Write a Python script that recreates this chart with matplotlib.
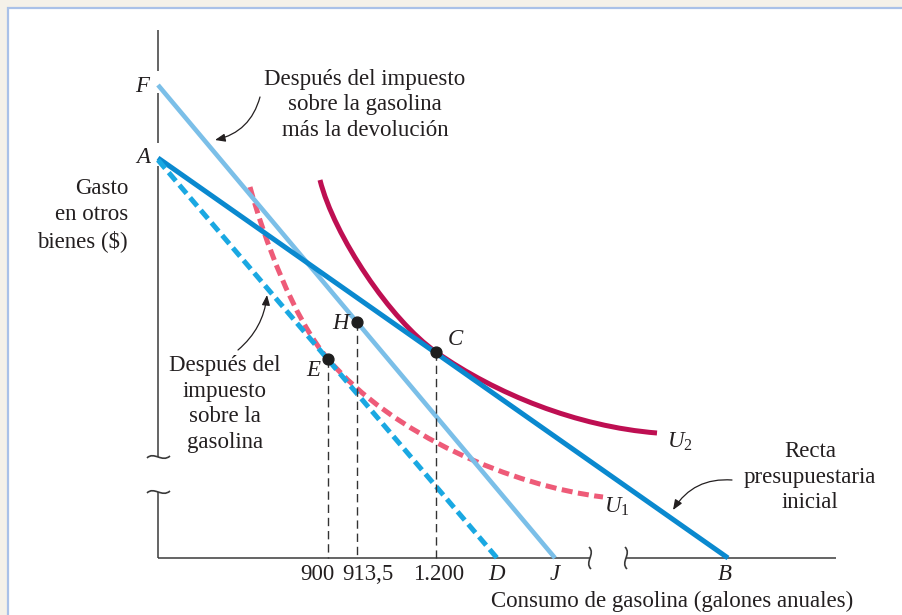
import matplotlib
matplotlib.use('Agg')
import matplotlib.pyplot as plt
from matplotlib.patches import Rectangle, PathPatch
from matplotlib.path import Path

plt.rcParams['font.family'] = ['Liberation Serif', 'DejaVu Serif']
plt.rcParams['mathtext.fontset'] = 'custom'
plt.rcParams['mathtext.it'] = 'Liberation Serif:italic'
plt.rcParams['mathtext.rm'] = 'Liberation Serif'

# schematic units: 0,0 is the axis corner
# budget lines (start on the y axis, end on the x axis)
A = (0, 40.0)
B = (57.0, 0)
F = (0, 47.3)
J = (39.7, 0)
A_tax = (0, 39.8)
D = (33.9, 0)

# chosen bundles
E = (17.0, 19.9)
H = (19.9, 23.6)
C = (27.8, 20.6)

# indifference curves as bezier control points
# (start, ctrl, ctrl, tangency point, ctrl, ctrl, end)
u2_x = [16.2, 17.6, 23.3, 27.8, 33.8, 41.9, 49.9]
u2_y = [37.8, 32.2, 23.75, 20.6, 16.4, 13.14, 12.5]
u1_x = [9.2, 10.6, 13.5, 17.0, 23.5, 35.5, 44.5]
u1_y = [37.1, 32.0, 24.0, 19.9, 12.27, 7.2, 6.1]

tick_labels = ['900', '913,5', '1.200']
tick_label_x = [15.9, 21.0, 28.1]

dark_blue = '#0a89cf'
light_blue = '#7bbfe8'
cyan = '#1aa8e2'
crimson = '#be0f52'
pink = '#ee5b78'
ink = '#231f20'

fig = plt.figure(figsize=(9.02, 6.15), dpi=100)
fig.patch.set_facecolor('#f4f1e9')
fig.patches.append(Rectangle((8 / 902, -0.1), 1.2, 1 - 8 / 615 + 0.1, transform=fig.transFigure,
                             facecolor='white', edgecolor='#a9c1e8', lw=1.6, zorder=-5))

ax = fig.add_axes([0, 0, 1, 1])
ax.set_xlim(-15.8, 74.4)
ax.set_ylim(-5.7, 55.8)
ax.axis('off')
ax.patch.set_alpha(0)

# axes with breaks
for y0, y1 in [(52.8, 48.7), (46.5, 41.5), (39.2, 10.1), (6.6, 0)]:
    ax.plot([0, 0], [y0, y1], color='#3a3a3a', lw=1.1, solid_capstyle='butt')
for x0, x1 in [(0, 43.2), (46.8, 67.8)]:
    ax.plot([x0, x1], [0, 0], color='#3a3a3a', lw=1.1, solid_capstyle='butt')


def brk(x, y, vertical):
    if vertical:
        verts = [(x - 0.1, y + 1.1), (x + 0.6, y + 0.4), (x - 0.6, y - 0.4), (x + 0.1, y - 1.1)]
    else:
        verts = [(x - 1.1, y - 0.1), (x - 0.4, y + 0.6), (x + 0.4, y - 0.6), (x + 1.2, y + 0.1)]
    p = Path(verts, [Path.MOVETO, Path.CURVE4, Path.CURVE4, Path.CURVE4])
    ax.add_patch(PathPatch(p, fill=False, edgecolor='#3a3a3a', lw=1.2))


brk(0, 10.1, False)
brk(0, 6.6, False)
brk(43.2, 0, True)
brk(46.8, 0, True)


def curve(xs, ys, **kw):
    codes = [Path.MOVETO] + [Path.CURVE4] * (len(xs) - 1)
    p = Path(list(zip(xs, ys)), codes)
    ax.add_patch(PathPatch(p, fill=False, **kw))


# budget lines
ax.plot([F[0], J[0]], [F[1], J[1]], color=light_blue, lw=3.3, solid_capstyle='butt')
ax.plot([A[0], B[0]], [A[1], B[1]], color=dark_blue, lw=3.6, solid_capstyle='butt')
ax.plot([A_tax[0], D[0]], [A_tax[1], D[1]], color=cyan, lw=3.6, dashes=(2.2, 1.1))

# indifference curves
curve(u1_x, u1_y, edgecolor=pink, lw=3.6, linestyle=(0, (2.2, 1.1)), capstyle='butt')
curve(u2_x, u2_y, edgecolor=crimson, lw=3.6, capstyle='butt')

# drop lines and points
for x, y in [E, H, C]:
    ax.plot([x, x], [y, 0], color='#333333', lw=1.0, dashes=(6, 3.5))
    ax.plot(x, y, 'o', color='#1e1e1e', ms=7.8, zorder=5)

fs = 16.5
txt = dict(color=ink, fontsize=fs, linespacing=1.3)
ax.text(-1.6, 47.1, 'F', style='italic', ha='center', va='center', **txt)
ax.text(-1.5, 40.0, 'A', style='italic', ha='center', va='center', **txt)
ax.text(29.7, 21.8, 'C', style='italic', ha='center', va='center', **txt)
ax.text(18.2, 23.4, 'H', style='italic', ha='center', va='center', **txt)
ax.text(15.5, 18.8, 'E', style='italic', ha='center', va='center', **txt)
ax.text(52.2, 11.6, '$U_2$', ha='center', va='center', **txt)
ax.text(45.9, 5.1, '$U_1$', ha='center', va='center', **txt)

for lx, lab in zip(tick_label_x, tick_labels):
    ax.text(lx, -1.7, lab, ha='center', va='center', **txt)
for lx, lab in [(D[0], 'D'), (J[0], 'J'), (56.7, 'B')]:
    ax.text(lx, -1.7, lab, style='italic', ha='center', va='center', **txt)

ax.text(51.4, -4.3, 'Consumo de gasolina (galones anuales)', ha='center', va='center', **txt)
ax.text(-3.0, 34.3, 'Gasto\nen otros\nbienes ($)', ha='right', va='center', multialignment='right', **txt)
ax.text(20.7, 45.3, 'Después del impuesto\nsobre la gasolina\nmás la devolución',
        ha='center', va='center', multialignment='center', **txt)
ax.text(6.7, 15.4, 'Después del\nimpuesto\nsobre la\ngasolina',
        ha='center', va='center', multialignment='center', **txt)
ax.text(65.2, 8.1, 'Recta\npresupuestaria\ninicial',
        ha='center', va='center', multialignment='center', **txt)

arrow = dict(arrowstyle='-|>,head_length=0.6,head_width=0.24', color=ink, lw=0.9,
             shrinkA=0, shrinkB=0)
ax.annotate('', xy=(5.7, 41.8), xytext=(10.2, 46.1),
            arrowprops=dict(connectionstyle='arc3,rad=-0.3', **arrow))
ax.annotate('', xy=(10.9, 26.3), xytext=(8.0, 20.8),
            arrowprops=dict(connectionstyle='arc3,rad=0.2', **arrow))
ax.annotate('', xy=(51.5, 4.8), xytext=(57.4, 7.8),
            arrowprops=dict(connectionstyle='arc3,rad=0.3', **arrow))

fig.savefig('out.png', dpi=100, facecolor=fig.get_facecolor())
